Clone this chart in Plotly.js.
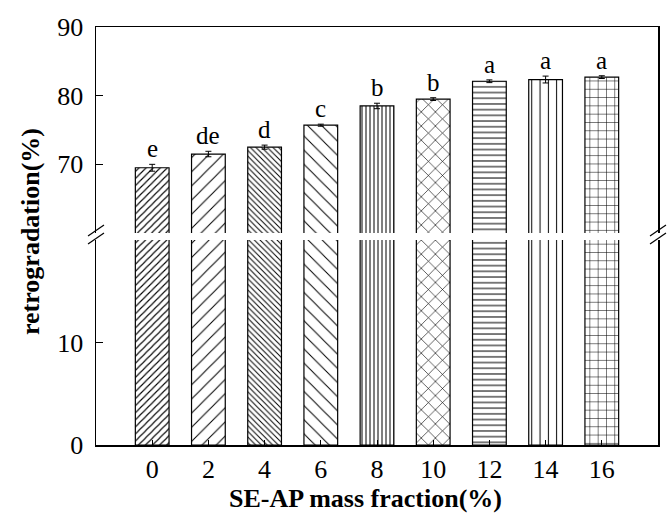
<!DOCTYPE html>
<html>
<head>
<meta charset="utf-8">
<script src="https://cdn.plot.ly/plotly-3.0.1.min.js"></script>
<style>html,body{margin:0;padding:0;background:#fff}#chart{width:672px;height:519px}</style>
</head>
<body>
<div id="chart"></div>
<script>
// ---- data ----
const massFraction = [0, 2, 4, 6, 8, 10, 12, 14, 16];
const retrogradation = [69.5, 71.5, 72.5, 75.7, 78.5, 79.5, 82.1, 82.35, 82.7];
const errors = [0.5, 0.4, 0.3, 0.15, 0.4, 0.2, 0.2, 0.5, 0.2];
const letters = ['e', 'de', 'd', 'c', 'b', 'b', 'a', 'a', 'a'];
const upperTicks = [70, 80, 90];
const lowerTicks = [0, 10];

// ---- styles ----
const patShapes = ['/', '/', '\\', '\\', '|', 'x', '-', '|', '+'];
const patSizes = [5, 10, 4, 10, 4, 10, 5.7, 8.3, 8.3];
const patSolid = [0.22, 0.1, 0.25, 0.1, 0.25, 0.12, 0.18, 0.12, 0.12];

const FONT = 'Liberation Serif, Times New Roman, serif';
const W = 672, H = 519;
const L = 96, R = 14, T = 27, B = 74;
const pw = W - L - R, ph = H - T - B;
const px = x => (x - L) / pw;
const py = y => (H - B - y) / ph;

const lowerTop = py(240), upperBottom = py(233);

const marker = {
  color: 'white',
  line: {color: 'black', width: 1.2},
  pattern: {shape: patShapes, size: patSizes, solidity: patSolid, fgcolor: 'black', bgcolor: 'white'}
};

const lower = {
  type: 'bar', x: massFraction, y: retrogradation, width: 1.2,
  xaxis: 'x', yaxis: 'y', marker: marker, hoverinfo: 'none', showlegend: false
};
const upper = {
  type: 'bar', x: massFraction, y: retrogradation, width: 1.2,
  xaxis: 'x2', yaxis: 'y2', marker: marker, hoverinfo: 'none', showlegend: false,
  error_y: {type: 'data', array: errors, visible: true, color: 'black', thickness: 1, width: 3}
};

const annotations = massFraction.map((x, i) => ({
  x: x, y: retrogradation[i] + errors[i], xref: 'x2', yref: 'y2',
  text: letters[i], showarrow: false, yanchor: 'bottom', yshift: 0,
  font: {family: FONT, size: 25, color: 'black'}
}));
annotations.push({
  xref: 'paper', yref: 'paper', x: px(31), y: py(232), text: '<b>retrogradation(%)</b>',
  textangle: -90, showarrow: false, xanchor: 'center', yanchor: 'middle',
  font: {family: FONT, size: 26, color: 'black'}
});
annotations.push({
  xref: 'paper', yref: 'paper', x: px(365), y: py(498), text: '<b>SE-AP mass fraction(%)</b>',
  showarrow: false, xanchor: 'center', yanchor: 'middle',
  font: {family: FONT, size: 26, color: 'black'}
});

function brk(cx) {
  const segs = [];
  [[244, 233], [236, 225]].forEach(([y0, y1]) => {
    segs.push({type: 'line', xref: 'paper', yref: 'paper', x0: px(cx - 8), y0: py(y0), x1: px(cx + 8), y1: py(y1),
      line: {color: 'black', width: 1.2}});
  });
  return segs;
}

const axisCommon = {
  showgrid: false, zeroline: false, linecolor: 'black', linewidth: 1.5,
  tickfont: {family: FONT, size: 26, color: 'black'}
};

const layout = {
  width: W, height: H,
  margin: {l: L, r: R, t: T, b: B},
  paper_bgcolor: 'white', plot_bgcolor: 'white',
  bargap: 0,
  xaxis: Object.assign({}, axisCommon, {
    anchor: 'y', range: [-2, 18], tickvals: massFraction, ticktext: massFraction.map(String),
    showline: true, mirror: false, ticks: 'inside', ticklen: 5, tickcolor: 'black', ticklabelstandoff: 0
  }),
  xaxis2: Object.assign({}, axisCommon, {
    anchor: 'y2', matches: 'x', side: 'top', showline: true, showticklabels: false, ticks: ''
  }),
  yaxis: Object.assign({}, axisCommon, {
    domain: [0, lowerTop], range: [0, 20], tickvals: lowerTicks,
    showline: true, mirror: true, ticks: 'inside', ticklen: 7, tickcolor: 'black', ticklabelstandoff: 6
  }),
  yaxis2: Object.assign({}, axisCommon, {
    domain: [upperBottom, 1], range: [60, 90], tickvals: upperTicks,
    showline: true, mirror: true, ticks: 'inside', ticklen: 7, tickcolor: 'black', ticklabelstandoff: 6
  }),
  annotations: annotations,
  shapes: brk(96).concat(brk(658))
};

Plotly.newPlot('chart', [lower, upper], layout, {displayModeBar: false, staticPlot: true});
</script>
</body>
</html>
